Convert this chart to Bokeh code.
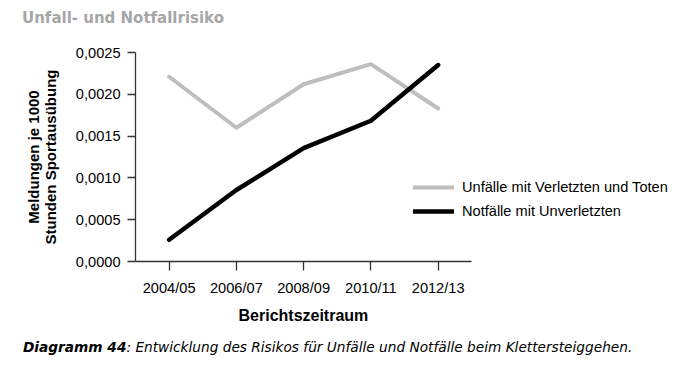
from bokeh.plotting import figure
from bokeh.models import Range1d, FixedTicker, CustomJSTickFormatter, Legend, LegendItem, Div, Title
from bokeh.layouts import column
from bokeh.embed import file_html
from bokeh.resources import INLINE

periods = ["2004/05", "2006/07", "2008/09", "2010/11", "2012/13"]
unfaelle = [0.00221, 0.00160, 0.00212, 0.00236, 0.00183]
notfaelle = [0.00026, 0.000855, 0.001357, 0.001684, 0.00235]
y_ticks = [0.0, 0.0005, 0.0010, 0.0015, 0.0020, 0.0025]
series_names = ["Unfälle mit Verletzten und Toten", "Notfälle mit Unverletzten"]
chart_title = "Unfall- und Notfallrisiko"
caption_bold = "Diagramm 44"
caption_rest = ": Entwicklung des Risikos für Unfälle und Notfälle beim Klettersteiggehen."

x_idx = list(range(len(periods)))

title_div = Div(text=chart_title, width=678, height=34, margin=(0, 0, 0, 22),
                styles={"font-family": "'DejaVu Sans', sans-serif", "font-weight": "bold",
                        "font-size": "15px", "line-height": "15px", "color": "#a6a6a6",
                        "padding-top": "10.5px", "white-space": "nowrap",
                        "box-sizing": "border-box"})

p = figure(width=700, height=296, x_range=Range1d(-0.5, 7.752), y_range=Range1d(0, 0.0025),
           output_backend="svg", toolbar_location=None, margin=0,
           min_border_left=135, min_border_right=10, min_border_top=18, min_border_bottom=69)
p.outline_line_color = None
p.xgrid.grid_line_color = None
p.ygrid.grid_line_color = None
p.background_fill_color = "white"
p.border_fill_color = "white"

r1 = p.line(x_idx, unfaelle, line_color="#bebebe", line_width=4, line_join="round", line_cap="round")
r2 = p.line(x_idx, notfaelle, line_color="#000000", line_width=4.5, line_join="round", line_cap="round")

tick_font = "'Liberation Sans', Arial, sans-serif"
tick_size = "14.6px"

for ax in (p.xaxis[0], p.yaxis[0]):
    ax.axis_line_color = "#333333"
    ax.axis_line_width = 1.3
    ax.major_tick_line_color = "#333333"
    ax.major_tick_line_width = 1.3
    ax.minor_tick_line_color = None
    ax.major_tick_in = 0
    ax.major_label_text_font = tick_font
    ax.major_label_text_font_size = tick_size
    ax.major_label_text_color = "#000000"
    ax.axis_label_text_font = tick_font
    ax.axis_label_text_font_style = "bold"
    ax.axis_label_text_font_size = "15px"
    ax.axis_label_text_color = "#000000"

p.xaxis.bounds = (-0.5, len(periods) - 0.5)
p.xaxis.ticker = FixedTicker(ticks=x_idx)
p.xaxis.major_label_overrides = {i: lab for i, lab in zip(x_idx, periods)}
p.xaxis.major_tick_out = 9
p.xaxis.major_label_standoff = 9

# x-axis title centred under the five periods
x_title = Title(text="Berichtszeitraum", align="left", offset=103, standoff=12,
                text_font=tick_font, text_font_style="bold", text_font_size="16px",
                text_color="#000000")
p.add_layout(x_title, "below")

p.yaxis.major_tick_out = 8
p.yaxis.major_label_standoff = 7
p.yaxis.ticker = FixedTicker(ticks=y_ticks)
p.yaxis.formatter = CustomJSTickFormatter(code="return tick.toFixed(4).replace('.', ',');")
p.yaxis.axis_label = "Meldungen je 1000\nStunden Sportausübung"
p.yaxis.axis_label_text_line_height = 1.0
p.yaxis.axis_label_standoff = 14

legend = Legend(items=[LegendItem(label=series_names[0], renderers=[r1]),
                       LegendItem(label=series_names[1], renderers=[r2])],
                location=(278, 40), orientation="vertical",
                glyph_width=41, glyph_height=20, label_height=20, spacing=4,
                label_standoff=8, padding=0, margin=0,
                border_line_color=None, background_fill_alpha=0,
                label_text_font=tick_font, label_text_font_size=tick_size, label_text_color="#000000")
p.add_layout(legend, "center")

caption_div = Div(text=f"<b>{caption_bold}</b>{caption_rest}", width=677, height=43, margin=(0, 0, 0, 23),
                  styles={"font-family": "'DejaVu Sans', sans-serif", "font-style": "italic",
                          "font-size": "13.7px", "line-height": "14px", "color": "#000000",
                          "padding-top": "10px", "white-space": "nowrap",
                          "box-sizing": "border-box"})

layout = column(title_div, p, caption_div, spacing=0)

open("out.html", "w").write(file_html(layout, INLINE))
